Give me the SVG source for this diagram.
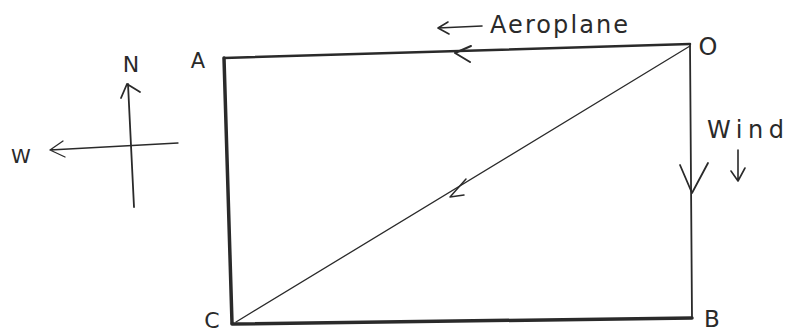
<svg xmlns="http://www.w3.org/2000/svg" width="786" height="335" viewBox="0 0 786 335">
<style>
.l{stroke:#2a2a2a;fill:none;stroke-linecap:round;stroke-linejoin:round}
.t{font-family:"DejaVu Sans","Liberation Sans",sans-serif;fill:#2a2a2a}
</style>
<rect width="786" height="335" fill="#ffffff"/>
<g id="connectors">
<path class="l" d="M224,58 L690,44" stroke-width="2.5"/>
<path class="l" d="M224,58 L232,323" stroke-width="3.5"/>
<path class="l" d="M690,44 L692,318" stroke-width="1.8"/>
<path class="l" d="M232,324 L692,318" stroke-width="3.5"/>
<path class="l" d="M690,46 L236,322" stroke-width="1.3"/>
<path class="l" d="M471,46 L455,53 L470,62" stroke-width="2"/>
<path class="l" d="M680,165 L692,193 L708,163" stroke-width="1.8"/>
<path class="l" d="M466,179 L450,197 L464,195" stroke-width="1.5"/>
<path class="l" d="M438,28 L482,26 M448,22 L438,28 L449,34" stroke-width="1.6"/>
<path class="l" d="M738,150 L738,180 M731,171 L738,181 L745,168" stroke-width="1.6"/>
</g>
<g id="compass">
<path class="l" d="M128,84 L134,207 M121,98 L127,84 L140,92" stroke-width="1.8"/>
<path class="l" d="M50,150 L178,143 M63,141 L50,150 L65,157" stroke-width="1.3"/>
<text class="t" x="131" y="72" font-size="22" text-anchor="middle">N</text>
<text class="t" x="21" y="163" font-size="20" text-anchor="middle">W</text>
</g>
<g id="A"><text class="t" x="198" y="68" font-size="21" text-anchor="middle">A</text></g>
<g id="O"><text class="t" x="708" y="55" font-size="24" text-anchor="middle">O</text></g>
<g id="B"><text class="t" x="712" y="327" font-size="23" text-anchor="middle">B</text></g>
<g id="C"><text class="t" x="212" y="328" font-size="22" text-anchor="middle">C</text></g>
<g id="aeroplane"><text class="t" x="490" y="33" font-size="24" textLength="138" lengthAdjust="spacing">Aeroplane</text></g>
<g id="wind"><text class="t" x="707" y="138" font-size="24" textLength="77" lengthAdjust="spacing">Wind</text></g>
</svg>
